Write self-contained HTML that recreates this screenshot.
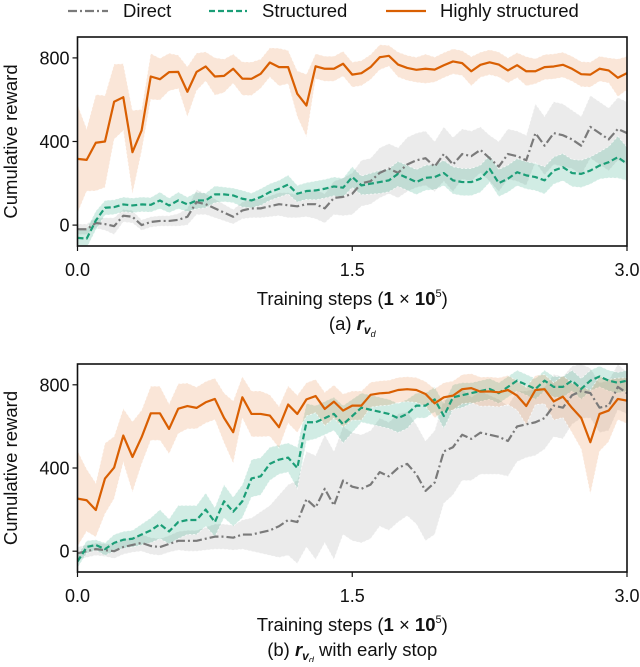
<!DOCTYPE html>
<html><head><meta charset="utf-8"><style>
body{margin:0;background:#fff}
svg text{font-family:"Liberation Sans",sans-serif;fill:#111}
</style></head><body>
<svg id="fig" width="640" height="662" viewBox="0 0 640 662" xmlns="http://www.w3.org/2000/svg">
<g>
  <line x1="68" y1="11" x2="108" y2="11" stroke="#7a7a7a" stroke-width="2.2" stroke-dasharray="9,3,2,3"/>
  <text x="123" y="17" font-size="18.5">Direct</text>
  <line x1="209" y1="11" x2="247" y2="11" stroke="#1b9e77" stroke-width="2.2" stroke-dasharray="6,3"/>
  <text x="262" y="17" font-size="18.5">Structured</text>
  <line x1="386" y1="11" x2="426" y2="11" stroke="#d95f02" stroke-width="2.2"/>
  <text x="440" y="17" font-size="18.5">Highly structured</text>
</g>
<g id="pa"></g>
<g id="pb"></g>
</svg>
<script>
const xTicks=[0,1.5,3.0];
const xTickLabels=["0.0","1.5","3.0"];
const yTicks=[0,400,800];
const yTickLabels=["0","400","800"];
const stepsX=Array.from({length:61},(_,i)=>i*0.05);

const aOrange=[317,312,394,400,590,612,349,453,711,698,732,733,638,733,759,711,714,748,701,700,724,778,756,756,628,572,760,748,748,772,720,727,756,803,810,768,752,743,748,744,765,783,775,736,767,779,768,740,765,736,736,756,759,767,748,722,720,748,740,705,727];
const aOrangeStd=[260,150,230,220,180,160,200,100,110,100,90,80,120,90,70,90,80,70,80,80,70,70,90,80,110,150,60,60,60,60,60,60,60,60,50,60,60,60,70,60,60,60,60,70,60,60,60,60,60,70,60,60,60,60,60,60,60,60,60,90,80];
const aGreen=[-61,-65,22,83,86,99,94,99,97,118,94,118,99,118,118,147,147,142,126,118,134,158,174,194,150,163,166,174,185,179,230,190,198,206,214,245,226,206,226,230,249,214,206,206,222,269,201,222,253,238,230,214,261,277,249,245,261,285,301,325,293];
const aGreenStd=[35,45,45,35,35,35,35,35,35,40,35,40,35,40,35,40,35,35,40,35,40,40,40,45,40,40,45,45,45,45,50,45,50,55,55,60,60,60,60,60,60,65,65,65,65,65,65,65,65,65,65,65,65,65,65,65,65,65,75,100,80];
const aGray=[-20,-20,10,5,-5,45,40,0,15,20,20,25,40,110,100,80,60,40,70,80,80,90,100,95,90,100,100,80,130,135,150,200,210,250,270,250,290,310,320,280,340,290,340,330,360,320,280,340,330,310,440,380,440,430,410,380,470,440,410,460,440];
const aGrayStd=[25,25,25,30,40,30,30,25,25,25,25,30,40,60,50,45,40,35,40,45,45,50,55,60,55,60,70,70,80,90,100,110,110,120,120,120,130,130,130,120,130,130,120,120,110,110,120,120,120,120,140,140,150,150,140,140,150,150,150,150,150];

const bOrange=[253,245,198,349,402,556,453,548,663,663,588,685,698,689,716,732,641,572,740,660,660,652,596,705,660,730,746,684,719,676,700,700,752,759,762,775,779,775,756,711,740,748,779,784,767,768,764,775,748,698,775,779,720,743,689,641,524,660,676,732,724];
const bOrangeStd=[230,150,130,170,150,130,170,130,130,130,120,120,110,100,100,100,120,150,100,110,110,100,100,90,90,80,80,80,80,80,70,70,60,60,60,60,60,60,60,70,70,70,70,70,70,70,70,70,70,90,70,70,90,100,120,150,250,180,150,100,110];
const bGreen=[-50,20,30,10,40,55,60,80,100,130,95,140,150,150,200,140,240,190,240,350,360,420,440,450,400,620,620,640,660,610,650,690,680,670,660,640,660,700,700,730,650,740,750,760,770,780,760,790,820,800,780,820,790,790,820,780,820,840,820,810,820];
const bGreenStd=[30,30,25,30,40,40,40,50,60,70,60,80,70,70,80,70,80,70,80,90,90,80,70,70,100,90,80,80,80,90,80,70,70,70,70,70,70,60,60,60,60,60,60,50,50,50,50,50,50,50,50,50,50,50,50,50,50,50,50,50,50];
const bGray=[-10,0,10,5,0,20,30,40,25,20,35,50,50,50,60,70,70,65,80,80,90,100,120,150,140,250,210,300,220,340,310,300,320,380,360,400,420,370,290,330,480,500,560,540,570,560,550,530,600,610,620,640,700,690,750,770,760,690,700,790,760];
const bGrayStd=[30,30,30,30,35,35,35,40,40,40,40,45,50,50,55,60,60,60,70,80,100,120,150,170,200,230,250,260,260,260,260,260,260,260,260,260,250,240,240,250,250,230,220,200,200,190,180,170,170,160,160,150,150,150,140,130,120,120,120,110,100];

const NS="http://www.w3.org/2000/svg";
function mk(tag,attrs,parent){const e=document.createElementNS(NS,tag);for(const k in attrs)e.setAttribute(k,attrs[k]);parent.appendChild(e);return e;}

function panel(g,top,bottom,series,caption){
  const L=77.5,R=627,yMin=-100,yMax=900;
  const xs=v=>L+(v-0)/(3.0-0)*(R-L);
  const ys=v=>bottom-(v-yMin)/(yMax-yMin)*(bottom-top);
  const clip=mk('clipPath',{id:'c'+top},g);
  mk('rect',{x:L,y:top,width:R-L,height:bottom-top},clip);
  const plot=mk('g',{'clip-path':'url(#c'+top+')'},g);
  series.forEach(s=>{
    const up=s.v.map((v,i)=>[xs(stepsX[i]),ys(v+s.sd[i])]);
    const lo=s.v.map((v,i)=>[xs(stepsX[i]),ys(v-s.sd[i])]);
    const band=mk('path',{d:'M'+up.map(p=>p.join(',')).join('L')+'L'+lo.reverse().map(p=>p.join(',')).join('L')+'Z',fill:s.c,'fill-opacity':0.2,stroke:'none'},plot);
    
    
    const e1=mk('polyline',{points:s.v.map((v,i)=>xs(stepsX[i])+','+ys(v+s.sd[i])).join(' '),fill:'none',stroke:'#fff','stroke-width':0.8,'stroke-dasharray':'2,2','stroke-opacity':0.8},plot);
    
    
    const e2=mk('polyline',{points:s.v.map((v,i)=>xs(stepsX[i])+','+ys(v-s.sd[i])).join(' '),fill:'none',stroke:'#fff','stroke-width':0.8,'stroke-dasharray':'2,2','stroke-opacity':0.8},plot);
    
    
  });
  series.forEach(s=>{
    const ln=mk('polyline',{points:s.v.map((v,i)=>xs(stepsX[i])+','+ys(v)).join(' '),fill:'none',stroke:s.lc,'stroke-width':2.2,'stroke-dasharray':s.d,'stroke-linejoin':'round'},plot);
    
    
  });
  const fr=mk('rect',{x:L,y:top,width:R-L,height:bottom-top,fill:'none',stroke:'#111','stroke-width':1.6},g);
  
  
  xTicks.forEach((t,i)=>{
    mk('line',{x1:xs(t),x2:xs(t),y1:bottom,y2:bottom+5,stroke:'#111','stroke-width':1.2},g);
    const tx=mk('text',{x:xs(t),y:bottom+30,'font-size':18,'text-anchor':'middle'},g);
    tx.textContent=xTickLabels[i];
    
    
  });
  yTicks.forEach((t,i)=>{
    mk('line',{x1:L-5,x2:L,y1:ys(t),y2:ys(t),stroke:'#111','stroke-width':1.2},g);
    const tx=mk('text',{x:L-8,y:ys(t)+6.5,'font-size':18,'text-anchor':'end'},g);
    tx.textContent=yTickLabels[i];
    
    
  });
  const yl=mk('text',{x:0,y:0,'font-size':18.5,'text-anchor':'middle',transform:`translate(17,${(top+bottom)/2}) rotate(-90)`},g);
  yl.textContent='Cumulative reward';
  
  
  const xl=mk('text',{x:(L+R)/2,y:bottom+59,'font-size':18.5,'text-anchor':'middle'},g);
  xl.innerHTML='Training steps (<tspan font-weight="bold">1</tspan> × <tspan font-weight="bold">10</tspan><tspan font-size="11" dy="-8">5</tspan><tspan dy="8">)</tspan>';
  
  
  const cp=mk('text',{x:(L+R)/2,y:bottom+84,'font-size':18.5,'text-anchor':'middle'},g);
  cp.innerHTML=caption;
  
  
}
panel(document.getElementById('pa'),37,246,[
  {n:'direct',v:aGray,sd:aGrayStd,c:'#9a9a9a',lc:'#7a7a7a',d:'9,3,2,3'},
  {n:'structured',v:aGreen,sd:aGreenStd,c:'#1b9e77',lc:'#1b9e77',d:'6,3'},
  {n:'highly-structured',v:aOrange,sd:aOrangeStd,c:'#e8803a',lc:'#d95f02',d:'none'}],
  '(a) <tspan font-style="italic" font-weight="bold">r</tspan><tspan font-style="italic" font-weight="bold" font-size="12" dy="4">v</tspan><tspan font-style="italic" font-size="9" dy="3">d</tspan>');
panel(document.getElementById('pb'),364,572,[
  {n:'direct',v:bGray,sd:bGrayStd,c:'#9a9a9a',lc:'#7a7a7a',d:'9,3,2,3'},
  {n:'structured',v:bGreen,sd:bGreenStd,c:'#1b9e77',lc:'#1b9e77',d:'6,3'},
  {n:'highly-structured',v:bOrange,sd:bOrangeStd,c:'#e8803a',lc:'#d95f02',d:'none'}],
  '(b) <tspan font-style="italic" font-weight="bold">r</tspan><tspan font-style="italic" font-weight="bold" font-size="12" dy="4">v</tspan><tspan font-style="italic" font-size="9" dy="3">d</tspan><tspan dy="-7"> with early stop</tspan>');
</script>
</body></html>
